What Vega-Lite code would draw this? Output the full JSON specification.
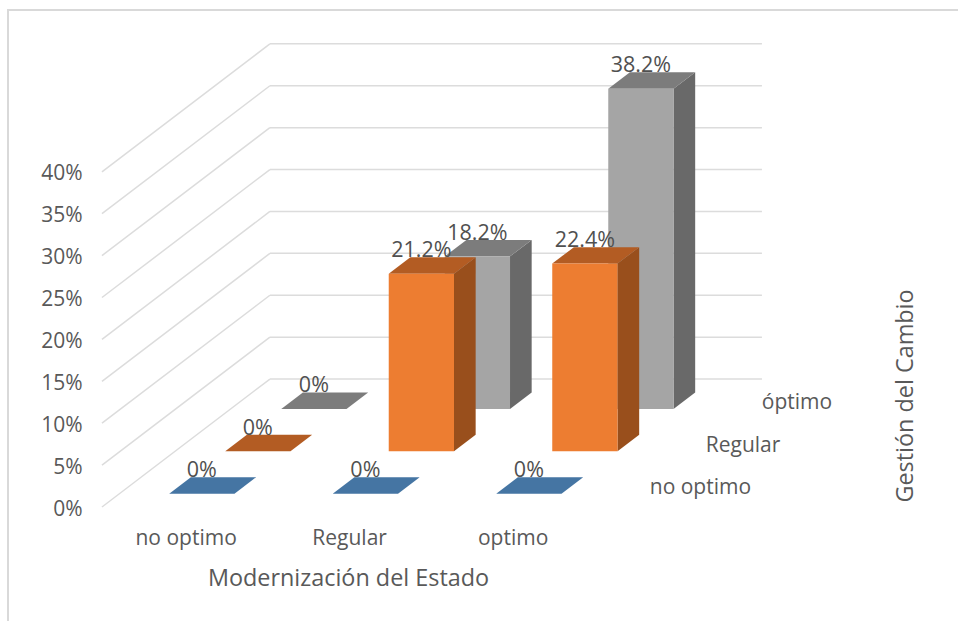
{
  "$schema": "https://vega.github.io/schema/vega-lite/v6.json",
  "width": 955,
  "height": 616,
  "autosize": {"type": "none"},
  "padding": {"left": 8, "top": 10, "right": 0, "bottom": 0},
  "background": "white",
  "view": {"stroke": "#d9d9d9", "strokeWidth": 2},
  "config": {"font": "Open Sans"},
  "datasets": {
    "celdas": [
      {"modernizacion": "no optimo", "gestion": "óptimo", "valor": 0},
      {"modernizacion": "Regular", "gestion": "óptimo", "valor": 18.2},
      {"modernizacion": "optimo", "gestion": "óptimo", "valor": 38.2},
      {"modernizacion": "no optimo", "gestion": "Regular", "valor": 0},
      {"modernizacion": "Regular", "gestion": "Regular", "valor": 21.2},
      {"modernizacion": "optimo", "gestion": "Regular", "valor": 22.4},
      {"modernizacion": "no optimo", "gestion": "no optimo", "valor": 0},
      {"modernizacion": "Regular", "gestion": "no optimo", "valor": 0},
      {"modernizacion": "optimo", "gestion": "no optimo", "valor": 0}
    ],
    "marcas": [
      {"pct": 0}, {"pct": 5}, {"pct": 10}, {"pct": 15}, {"pct": 20},
      {"pct": 25}, {"pct": 30}, {"pct": 35}, {"pct": 40}
    ],
    "filas": [
      {"gestion": "no optimo"}, {"gestion": "Regular"}, {"gestion": "óptimo"}
    ]
  },
  "encoding": {
    "x": {
      "field": "x",
      "type": "quantitative",
      "scale": {"domain": [-0.573, 5.25], "nice": false, "zero": false},
      "axis": {
        "title": "Modernización del Estado",
        "titleFont": "Open Sans",
        "titleFontSize": 23.4,
        "titleFontWeight": "normal",
        "titleColor": "#595959",
        "titleX": 340,
        "titleY": 53,
        "titleAnchor": "middle",
        "titleBaseline": "middle",
        "values": [0.51, 1.507, 2.504],
        "labelExpr": "datum.value < 1 ? 'no optimo' : datum.value < 2 ? 'Regular' : 'optimo'",
        "offset": -101,
        "labelPadding": 2,
        "labelFontSize": 21,
        "labelColor": "#595959",
        "labelFlush": false,
        "domain": false,
        "ticks": false,
        "grid": false
      }
    },
    "y": {
      "field": "y",
      "type": "quantitative",
      "stack": null,
      "scale": {"domain": [-14.2, 59.31], "nice": false, "zero": false},
      "axis": {
        "title": null,
        "values": [0, 5, 10, 15, 20, 25, 30, 35, 40],
        "labelExpr": "datum.value + '%'",
        "offset": -94,
        "labelPadding": 20,
        "labelOffset": 2,
        "labelFontSize": 21,
        "labelColor": "#595959",
        "domain": false,
        "ticks": false,
        "grid": false
      }
    }
  },
  "layer": [
    {
      "description": "Paredes: lineas diagonales del lateral y horizontales del fondo",
      "data": {"name": "marcas"},
      "transform": [
        {"calculate": "0", "as": "x"},
        {"calculate": "1.024", "as": "xf"},
        {"calculate": "datum.pct", "as": "y"},
        {"calculate": "datum.pct + 15.27", "as": "yf"}
      ],
      "mark": {"type": "rule", "color": "#dcdcdc", "strokeWidth": 1.5},
      "encoding": {
        "x2": {"field": "xf"},
        "y2": {"field": "yf"}
      }
    },
    {
      "data": {"name": "marcas"},
      "transform": [
        {"calculate": "1.024", "as": "x"},
        {"calculate": "4.024", "as": "xf"},
        {"calculate": "datum.pct + 15.27", "as": "y"}
      ],
      "mark": {"type": "rule", "color": "#dcdcdc", "strokeWidth": 1.5},
      "encoding": {
        "x2": {"field": "xf"}
      }
    },
    {
      "description": "Columnas en proyeccion oblicua: cada cara es un area, de atras hacia adelante",
      "data": {"name": "celdas"},
      "transform": [
        {"calculate": "indexof(['no optimo','Regular','optimo'], datum.modernizacion)", "as": "c"},
        {"calculate": "indexof(['no optimo','Regular','óptimo'], datum.gestion)", "as": "d"},
        {"calculate": "0.41 + 0.997 * datum.c + 0.3415 * datum.d", "as": "izq"},
        {"calculate": "1.59 + 5.06 * datum.d", "as": "base"},
        {"calculate": "datum.base + datum.valor", "as": "cima"},
        {"calculate": "['lateral','superior','frontal']", "as": "cara"},
        {"flatten": ["cara"]},
        {"calculate": "datum.cara === 'superior' ? [0,1,2,3] : [0,1]", "as": "p"},
        {"flatten": ["p"]},
        {"calculate": "datum.cara === 'frontal' ? datum.izq + 0.398 * datum.p : datum.cara === 'lateral' ? datum.izq + 0.398 + 0.132 * datum.p : datum.izq + [0, 0.132, 0.398, 0.53][datum.p]", "as": "x"},
        {"calculate": "datum.cara === 'frontal' ? datum.cima : datum.cara === 'lateral' ? datum.cima + 1.96 * datum.p : datum.cima + [0, 1.96, 1.96, 1.96][datum.p]", "as": "y"},
        {"calculate": "datum.cara === 'frontal' ? datum.base : datum.cara === 'lateral' ? datum.base + 1.96 * datum.p : datum.cima + [0, 0, 0, 1.96][datum.p]", "as": "yb"},
        {"calculate": "datum.gestion + '|' + datum.cara", "as": "tono"},
        {"calculate": "datum.modernizacion + '|' + datum.gestion + '|' + datum.cara", "as": "pieza"}
      ],
      "mark": {"type": "area", "orient": "vertical", "opacity": 1, "interpolate": "linear"},
      "encoding": {
        "y2": {"field": "yb"},
        "detail": {"field": "pieza"},
        "color": {
          "field": "tono",
          "type": "nominal",
          "legend": null,
          "scale": {
            "domain": [
              "óptimo|frontal", "óptimo|lateral", "óptimo|superior",
              "Regular|frontal", "Regular|lateral", "Regular|superior",
              "no optimo|frontal", "no optimo|lateral", "no optimo|superior"
            ],
            "range": [
              "#a5a5a5", "#696969", "#7c7c7c",
              "#ed7d31", "#994f1c", "#b35c23",
              "#5b9bd5", "#3b6a94", "#4575a3"
            ]
          }
        }
      }
    },
    {
      "description": "Etiquetas de valor sobre cada columna",
      "data": {"name": "celdas"},
      "transform": [
        {"calculate": "indexof(['no optimo','Regular','optimo'], datum.modernizacion)", "as": "c"},
        {"calculate": "indexof(['no optimo','Regular','óptimo'], datum.gestion)", "as": "d"},
        {"calculate": "0.41 + 0.997 * datum.c + 0.3415 * datum.d + 0.199", "as": "x"},
        {"calculate": "1.59 + 5.06 * datum.d + datum.valor + 1.96", "as": "y"},
        {"calculate": "datum.valor === 0 ? '0%' : format(datum.valor, '.1f') + '%'", "as": "etiqueta"}
      ],
      "mark": {"type": "text", "fontSize": 21.5, "color": "#505050", "align": "center", "baseline": "alphabetic", "dy": 0},
      "encoding": {"text": {"field": "etiqueta"}}
    },
    {
      "description": "Categorias del eje de profundidad",
      "data": {"name": "filas"},
      "transform": [
        {"calculate": "indexof(['no optimo','Regular','óptimo'], datum.gestion)", "as": "d"},
        {"calculate": "3.34 + 0.3415 * datum.d", "as": "x"},
        {"calculate": "2.3 + 5.03 * datum.d", "as": "y"}
      ],
      "mark": {"type": "text", "fontSize": 21, "color": "#595959", "align": "left", "baseline": "middle"},
      "encoding": {"text": {"field": "gestion"}}
    },
    {
      "description": "Titulo del eje de profundidad",
      "data": {"values": [{"titulo": "Gestión del Cambio"}]},
      "transform": [
        {"calculate": "4.902", "as": "x"},
        {"calculate": "13.25", "as": "y"}
      ],
      "mark": {"type": "text", "fontSize": 23.4, "color": "#595959", "angle": 270, "align": "center", "baseline": "middle"},
      "encoding": {"text": {"field": "titulo"}}
    }
  ]
}
